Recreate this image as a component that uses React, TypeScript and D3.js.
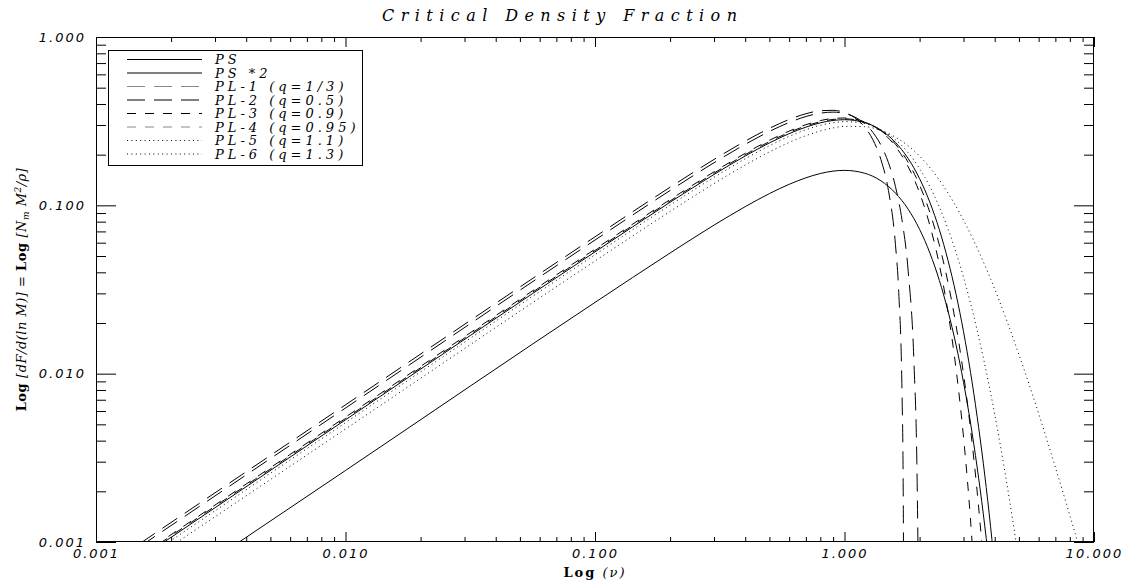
import { useEffect, useRef } from "react"
import * as d3 from "d3"

// Values: nu (x) and dF/d(ln M) (y) per model
const psNu = [0.0036, 0.01, 0.1, 0.2, 0.3, 0.4, 0.5, 0.6, 0.7, 0.8, 0.9, 1.0, 1.2, 1.4, 1.6, 1.8, 2.0, 2.2, 2.4, 2.6, 2.8, 3.0, 3.2, 3.4, 3.6, 3.8]
const psVal = [0.00096, 0.00266, 0.0265, 0.0521, 0.0763, 0.0982, 0.1174, 0.1333, 0.1457, 0.1545, 0.1597, 0.1613, 0.1554, 0.1398, 0.1183, 0.0948, 0.072, 0.052, 0.0358, 0.0235, 0.0148, 0.00887, 0.00509, 0.00279, 0.00147, 0.00074]

const ps2Nu = [0.0018, 0.01, 0.1, 0.2, 0.3, 0.4, 0.5, 0.6, 0.7, 0.8, 0.9, 1.0, 1.2, 1.4, 1.6, 1.8, 2.0, 2.2, 2.4, 2.6, 2.8, 3.0, 3.2, 3.4, 3.6, 3.8, 4.0]
const ps2Val = [0.00096, 0.00532, 0.0529, 0.1043, 0.1526, 0.1964, 0.2348, 0.2666, 0.2914, 0.309, 0.3194, 0.3226, 0.3108, 0.2796, 0.2366, 0.1896, 0.144, 0.104, 0.0716, 0.047, 0.0296, 0.01774, 0.01018, 0.00558, 0.00294, 0.00148, 0.00071]

const pl1Nu = [0.0015, 0.01, 0.1, 0.2, 0.3, 0.4, 0.5, 0.6, 0.7, 0.8, 0.9, 1.0, 1.1, 1.2, 1.3, 1.4, 1.5, 1.6, 1.65, 1.7, 1.72, 1.73]
const pl1Val = [0.00098, 0.00653, 0.065, 0.1281, 0.1873, 0.2407, 0.2867, 0.3236, 0.35, 0.3647, 0.3668, 0.3557, 0.3313, 0.294, 0.2451, 0.1867, 0.1225, 0.0587, 0.0303, 0.0078, 0.00184, 0.00013]

const pl2Nu = [0.0015, 0.01, 0.1, 0.2, 0.3, 0.4, 0.5, 0.6, 0.7, 0.8, 0.9, 1.0, 1.1, 1.2, 1.3, 1.4, 1.5, 1.6, 1.7, 1.8, 1.9, 1.95, 1.98]
const pl2Val = [0.00094, 0.00625, 0.0622, 0.1225, 0.1792, 0.2304, 0.2747, 0.3105, 0.3369, 0.3528, 0.3578, 0.3516, 0.3345, 0.3072, 0.271, 0.2276, 0.1794, 0.1296, 0.0818, 0.0406, 0.01129, 0.00297, 0.00049]

const pl3Nu = [0.0017, 0.01, 0.1, 0.2, 0.3, 0.4, 0.5, 0.6, 0.7, 0.8, 0.9, 1.0, 1.2, 1.4, 1.6, 1.8, 2.0, 2.2, 2.4, 2.6, 2.8, 3.0, 3.2, 3.4]
const pl3Val = [0.00094, 0.00552, 0.0549, 0.1081, 0.1582, 0.2036, 0.2433, 0.276, 0.3013, 0.3188, 0.3284, 0.3302, 0.3136, 0.2751, 0.2242, 0.1694, 0.1185, 0.0758, 0.0443, 0.02315, 0.01066, 0.00419, 0.00135, 0.00033]

const pl4Nu = [0.0018, 0.01, 0.1, 0.2, 0.3, 0.4, 0.5, 0.6, 0.7, 0.8, 0.9, 1.0, 1.2, 1.4, 1.6, 1.8, 2.0, 2.2, 2.4, 2.6, 2.8, 3.0, 3.2, 3.4, 3.6]
const pl4Val = [0.00098, 0.00542, 0.0539, 0.1062, 0.1554, 0.2, 0.239, 0.2713, 0.2964, 0.3138, 0.3239, 0.3265, 0.3123, 0.2777, 0.2309, 0.18, 0.1318, 0.0904, 0.058, 0.0347, 0.0193, 0.00993, 0.00468, 0.00201, 0.00078]

const pl5Nu = [0.0019, 0.01, 0.1, 0.2, 0.3, 0.4, 0.5, 0.6, 0.7, 0.8, 0.9, 1.0, 1.2, 1.4, 1.6, 1.8, 2.0, 2.4, 2.8, 3.2, 3.6, 4.0, 4.4, 4.8, 5.2]
const pl5Val = [0.00097, 0.00512, 0.0509, 0.1003, 0.1467, 0.189, 0.2259, 0.2568, 0.2811, 0.2987, 0.3096, 0.3141, 0.3063, 0.2812, 0.2455, 0.2052, 0.1652, 0.0977, 0.0525, 0.0262, 0.01246, 0.00573, 0.00258, 0.00115, 0.00051]

const pl6Nu = [0.0021, 0.01, 0.1, 0.2, 0.3, 0.4, 0.5, 0.6, 0.7, 0.8, 0.9, 1.0, 1.2, 1.4, 1.6, 2.0, 2.5, 3.0, 3.5, 4.0, 5.0, 6.0, 7.0, 8.0, 9.0]
const pl6Val = [0.00099, 0.00469, 0.0467, 0.092, 0.1347, 0.1735, 0.2076, 0.2364, 0.2594, 0.2766, 0.2882, 0.2946, 0.2935, 0.2783, 0.2541, 0.1959, 0.1294, 0.0816, 0.0508, 0.0318, 0.013, 0.00579, 0.00278, 0.00144, 0.00079]

const seriesLabels = ["PS", "PS *2", "PL-1 (q=1/3)", "PL-2 (q=0.5)", "PL-3 (q=0.9)", "PL-4 (q=0.95)", "PL-5 (q=1.1)", "PL-6 (q=1.3)"]
const xTickValues = [0.001, 0.01, 0.1, 1, 10]
const yTickValues = [0.001, 0.01, 0.1, 1]

const W = 1130
const H = 586
const LEFT = 96
const RIGHT = 1094
const TOP = 37
const BOTTOM = 542

// IDL-ish line styles: solid, long dashes, dashes, dots
const dashes = ["", "", "18,9", "18,9", "9,9", "9,9", "1,3.4", "1,3.4"]
const legendStroke = ["#000", "#000", "#888", "#000", "#000", "#888", "#000", "#000"]

export default function App() {
  const svgRef = useRef<SVGSVGElement>(null)

  useEffect(() => {
    if (!svgRef.current) return
    const svg = d3.select(svgRef.current)
    svg.selectAll("*").remove()

    const x = d3.scaleLog().domain([0.001, 10]).range([LEFT, RIGHT])
    const y = d3.scaleLog().domain([0.001, 1]).range([BOTTOM, TOP])

    const series = [
      { nu: psNu, val: psVal },
      { nu: ps2Nu, val: ps2Val },
      { nu: pl1Nu, val: pl1Val },
      { nu: pl2Nu, val: pl2Val },
      { nu: pl3Nu, val: pl3Val },
      { nu: pl4Nu, val: pl4Val },
      { nu: pl5Nu, val: pl5Val },
      { nu: pl6Nu, val: pl6Val },
    ].map((s, i) => ({
      label: seriesLabels[i],
      dash: dashes[i],
      points: s.nu.map((n, j) => [n, s.val[j]] as [number, number]),
    }))

    svg
      .append("defs")
      .append("clipPath")
      .attr("id", "plot-clip")
      .append("rect")
      .attr("x", LEFT)
      .attr("y", TOP)
      .attr("width", RIGHT - LEFT)
      .attr("height", BOTTOM - TOP)

    const minorX = x.ticks().filter((t) => !xTickValues.some((m) => Math.abs(m - t) < 1e-9))
    const minorY = y.ticks().filter((t) => !yTickValues.some((m) => Math.abs(m - t) < 1e-9))
    const fmt = d3.format(".3f")
    const tickFont = "'DejaVu Sans', sans-serif"

    const styleAxis = (g: d3.Selection<SVGGElement, unknown, null, undefined>) => {
      g.select(".domain").remove()
      g.selectAll("line").attr("stroke", "#000").attr("stroke-width", 1)
    }

    // bottom axis
    svg
      .append("g")
      .attr("transform", `translate(0,${BOTTOM})`)
      .call(d3.axisBottom(x).tickValues(minorX).tickSize(-5).tickFormat(() => ""))
      .call(styleAxis)
    const bottomMajor = svg
      .append("g")
      .attr("transform", `translate(0,${BOTTOM})`)
      .call(d3.axisBottom(x).tickValues(xTickValues).tickSize(-10).tickPadding(7).tickFormat((d) => fmt(d as number)))
      .call(styleAxis)
    bottomMajor
      .selectAll("text")
      .attr("fill", "#000")
      .attr("font-family", tickFont)
      .attr("font-style", "italic")
      .attr("font-size", 13)
      .attr("letter-spacing", 2)

    // top axis
    svg
      .append("g")
      .attr("transform", `translate(0,${TOP})`)
      .call(d3.axisTop(x).tickValues(minorX).tickSize(-5).tickFormat(() => ""))
      .call(styleAxis)
    svg
      .append("g")
      .attr("transform", `translate(0,${TOP})`)
      .call(d3.axisTop(x).tickValues(xTickValues).tickSize(-10).tickFormat(() => ""))
      .call(styleAxis)

    // left axis
    svg
      .append("g")
      .attr("transform", `translate(${LEFT},0)`)
      .call(d3.axisLeft(y).tickValues(minorY).tickSize(-10).tickFormat(() => ""))
      .call(styleAxis)
    const leftMajor = svg
      .append("g")
      .attr("transform", `translate(${LEFT},0)`)
      .call(d3.axisLeft(y).tickValues(yTickValues).tickSize(-20).tickPadding(10).tickFormat((d) => fmt(d as number)))
      .call(styleAxis)
    leftMajor
      .selectAll("text")
      .attr("fill", "#000")
      .attr("font-family", tickFont)
      .attr("font-style", "italic")
      .attr("font-size", 13)
      .attr("letter-spacing", 2)

    // right axis
    svg
      .append("g")
      .attr("transform", `translate(${RIGHT},0)`)
      .call(d3.axisRight(y).tickValues(minorY).tickSize(-10).tickFormat(() => ""))
      .call(styleAxis)
    svg
      .append("g")
      .attr("transform", `translate(${RIGHT},0)`)
      .call(d3.axisRight(y).tickValues(yTickValues).tickSize(-20).tickFormat(() => ""))
      .call(styleAxis)

    // frame
    svg
      .append("rect")
      .attr("x", LEFT + 0.5)
      .attr("y", TOP + 0.5)
      .attr("width", RIGHT - LEFT - 1)
      .attr("height", BOTTOM - TOP - 1)
      .attr("fill", "none")
      .attr("stroke", "#000")
      .attr("stroke-width", 1)

    // curves
    const line = d3
      .line<[number, number]>()
      .x((d) => x(d[0]))
      .y((d) => y(d[1]))
      .curve(d3.curveMonotoneX)

    svg
      .append("g")
      .attr("clip-path", "url(#plot-clip)")
      .selectAll("path")
      .data(series)
      .enter()
      .append("path")
      .attr("d", (d) => line(d.points))
      .attr("fill", "none")
      .attr("stroke", "#000")
      .attr("stroke-width", 1)
      .attr("stroke-dasharray", (d) => d.dash)

    // legend
    const legend = svg.append("g")
    legend
      .append("rect")
      .attr("x", 108.5)
      .attr("y", 50.5)
      .attr("width", 254)
      .attr("height", 115)
      .attr("fill", "#fff")
      .attr("stroke", "#000")
    const rows = legend
      .selectAll("g.row")
      .data(series)
      .enter()
      .append("g")
      .attr("class", "row")
      .attr("transform", (_, i) => `translate(0,${59.5 + i * 13.5})`)
    rows
      .append("line")
      .attr("x1", 127)
      .attr("x2", 202)
      .attr("stroke", (_, i) => legendStroke[i])
      .attr("stroke-width", 1)
      .attr("stroke-dasharray", (d) => d.dash)
    rows
      .append("text")
      .attr("x", 215)
      .attr("y", 4.5)
      .attr("font-family", "'DejaVu Serif', serif")
      .attr("font-style", "italic")
      .attr("font-size", 13)
      .attr("letter-spacing", 4)
      .text((d) => d.label)

    // title
    svg
      .append("text")
      .attr("x", 382)
      .attr("y", 21)
      .attr("font-family", "'DejaVu Serif', serif")
      .attr("font-style", "italic")
      .attr("font-size", 16)
      .attr("textLength", 355)
      .attr("lengthAdjust", "spacing")
      .text("Critical Density Fraction")

    // x axis title
    const xt = svg
      .append("text")
      .attr("x", (LEFT + RIGHT) / 2)
      .attr("y", 577)
      .attr("text-anchor", "middle")
      .attr("font-family", "'DejaVu Serif', serif")
      .attr("font-size", 13)
      .attr("letter-spacing", 2)
    xt.append("tspan").attr("font-weight", "bold").text("Log")
    xt.append("tspan").attr("font-style", "italic").text(" (ν)")

    // y axis title
    const yt = svg
      .append("text")
      .attr("transform", `translate(26,${(TOP + BOTTOM) / 2}) rotate(-90)`)
      .attr("text-anchor", "middle")
      .attr("font-family", "'DejaVu Serif', serif")
      .attr("font-size", 13)
      .attr("letter-spacing", 0.5)
    yt.append("tspan").attr("font-weight", "bold").text("Log ")
    yt.append("tspan").attr("font-style", "italic").text("[dF/d(ln M)] = ")
    yt.append("tspan").attr("font-weight", "bold").text("Log ")
    yt.append("tspan").attr("font-style", "italic").text("[N")
    yt.append("tspan").attr("font-style", "italic").attr("font-size", 9).attr("dy", 3).text("m")
    yt.append("tspan").attr("font-style", "italic").attr("dy", -3).text(" M")
    yt.append("tspan").attr("font-style", "italic").attr("font-size", 9).attr("dy", -5).text("2")
    yt.append("tspan").attr("font-style", "italic").attr("dy", 5).text("/ρ]")
  }, [])

  return (
    <svg
      ref={svgRef}
      width={W}
      height={H}
      style={{ position: "absolute", left: 0, top: 0, background: "#fff" }}
    ></svg>
  )
}
